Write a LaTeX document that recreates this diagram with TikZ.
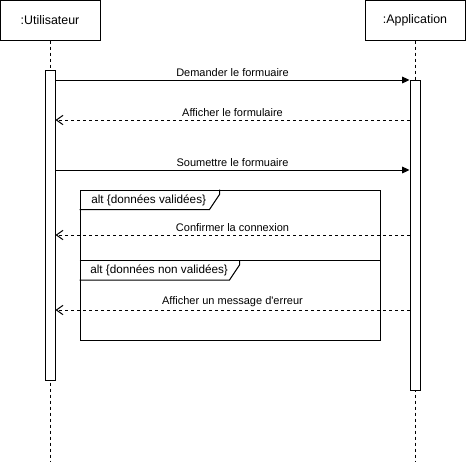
\documentclass[tikz,border=0pt]{standalone}
\usepackage{fontspec}
\setmainfont{Liberation Sans}[Ligatures=TeXOff]
\usetikzlibrary{arrows.meta,positioning}

\tikzset{
    objbox/.style={draw, line width=0.75pt, minimum width=75pt, minimum height=30pt, inner sep=0pt, font=\fontsize{9.3}{11}\selectfont},
    actbox/.style={draw, fill=white, line width=0.75pt, minimum width=7.5pt, minimum height=232.5pt, inner sep=0pt},
    lifeline/.style={line width=0.75pt, dash pattern=on 2.25pt off 2.25pt},
    msg/.style={line width=0.75pt, -{Triangle[length=5.5pt,width=5pt]}},
    reply/.style={line width=0.75pt, dash pattern=on 2.25pt off 2.25pt, -{Straight Barb[length=5pt,width=7pt]}},
    msglabel/.style={above, inner sep=2pt, font=\fontsize{8.25}{10}\selectfont},
    tablabel/.style={anchor=west, inner sep=0pt, font=\fontsize{8.8}{10}\selectfont}
}

\begin{document}
\begin{tikzpicture}[x=0.75pt, y=-0.75pt]
    \useasboundingbox (0,0) rectangle (466,461);

    % objets
    \node[objbox] (uBox) at (50,20) {:Utilisateur};
    \node[objbox] (aBox) at (415,20) {:Application};

    % lignes de vie
    \draw[lifeline] (uBox.south) -- (uBox.south |- 0,461);
    \draw[lifeline] (aBox.south) -- (aBox.south |- 0,461);

    % barres d'activation
    \node[actbox] (uAct) at (50,225) {};
    \node[actbox] (aAct) at (415,235) {};

    % messages
    \draw[msg] (uAct.east |- 0,80) -- node[msglabel] {Demander le formuaire} (aAct.west |- 0,80);
    \draw[reply] (aAct.west |- 0,120) -- node[msglabel] {Afficher le formulaire} (uAct.east |- 0,120);
    \draw[msg] (uAct.east |- 0,170) -- node[msglabel] {Soumettre le formuaire} (aAct.west |- 0,170);

    % fragment alt
    \node[draw, line width=0.75pt, minimum width=225pt, minimum height=112.5pt, inner sep=0pt] (altFrame) at (230,265) {};
    \draw[line width=0.75pt] (altFrame.north west) ++(0,20) -- ++(130,0) -- ++(10,-15) -- ++(0,-5);
    \node[tablabel] (altOk) at (91,200) {alt \{données validées\}};
    \draw[line width=0.75pt] (altFrame.west |- 0,260) -- (altFrame.east |- 0,260);
    \draw[line width=0.75pt] (altFrame.west |- 0,280) -- ++(150,0) -- ++(10,-15) -- ++(0,-5);
    \node[tablabel] (altKo) at (90,270) {alt \{données non validées\}};

    % reponses dans le fragment
    \draw[reply] (aAct.west |- 0,235) -- node[msglabel] {Confirmer la connexion} (uAct.east |- 0,235);
    \draw[reply] (aAct.west |- 0,310) -- node[msglabel] {Afficher un message d'erreur} (uAct.east |- 0,310);
\end{tikzpicture}
\end{document}
